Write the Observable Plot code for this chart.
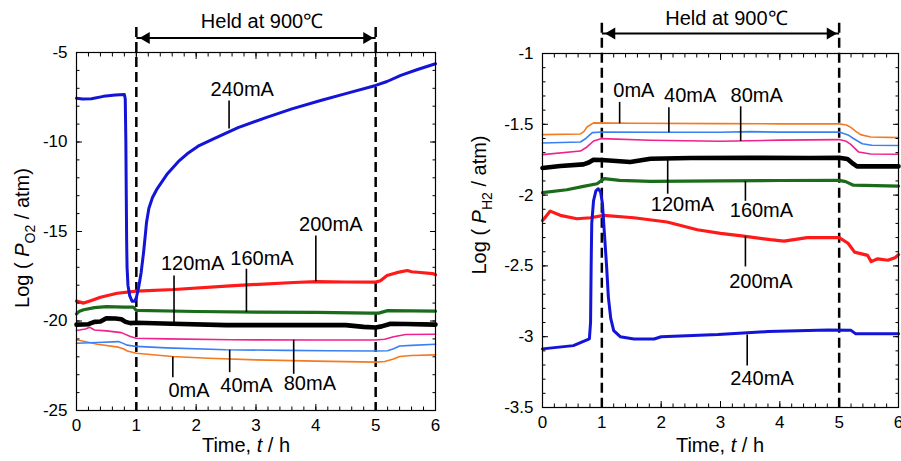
<!DOCTYPE html>
<html><head><meta charset="utf-8">
<script src="https://cdn.jsdelivr.net/npm/d3@7"></script>
<script src="https://cdn.jsdelivr.net/npm/@observablehq/plot@0.6"></script>
<style>
html,body{margin:0;padding:0;background:#fff;}
#wrap{position:relative;width:901px;height:461px;overflow:hidden;}
#wrap svg{position:absolute;top:0;}
</style></head><body><div id="wrap"></div>
<script>
// ---------- data: [time (h), log P] ----------
const currents = ["0mA","40mA","80mA","120mA","160mA","200mA","240mA"];

// Left panel: log P(O2)
const o2_0mA = [[0,-21.05],[0.35,-21.3],[0.7,-21.46],[0.78,-21.55],[0.85,-21.68],[1.0,-21.8],[1.6,-21.98],[2.2,-22.08],[3.0,-22.17],[4.0,-22.24],[5.0,-22.3],[5.15,-22.26],[5.3,-22.12],[5.4,-21.98],[5.6,-21.93],[6.0,-21.89]];
const o2_40mA = [[0,-21.24],[0.35,-21.2],[0.7,-21.15],[0.78,-21.25],[0.85,-21.35],[1.0,-21.42],[1.5,-21.5],[2.5,-21.61],[3.5,-21.64],[4.2,-21.66],[5.0,-21.68],[5.2,-21.66],[5.3,-21.55],[5.4,-21.4],[5.6,-21.36],[6.0,-21.3]];
const o2_80mA = [[0,-20.53],[0.15,-20.45],[0.22,-20.35],[0.3,-20.5],[0.5,-20.55],[0.75,-20.65],[0.9,-20.87],[1.0,-20.96],[1.5,-21.0],[2.6,-21.05],[4.0,-21.06],[5.0,-21.06],[5.15,-21.02],[5.3,-20.88],[5.5,-20.75],[6.0,-20.74]];
const o2_120mA = [[0,-20.2],[0.2,-20.18],[0.3,-20.05],[0.4,-20.03],[0.5,-19.85],[0.65,-19.86],[0.75,-19.9],[0.82,-20.05],[0.9,-20.12],[1.0,-20.1],[1.6,-20.15],[2.5,-20.23],[3.5,-20.23],[4.5,-20.23],[4.8,-20.33],[5.0,-20.36],[5.1,-20.3],[5.25,-20.15],[5.5,-20.17],[6.0,-20.2]];
const o2_160mA = [[0,-19.6],[0.05,-19.45],[0.12,-19.37],[0.3,-19.25],[0.5,-19.2],[0.8,-19.22],[0.95,-19.22],[1.0,-19.41],[2.0,-19.47],[3.0,-19.5],[4.0,-19.52],[4.9,-19.56],[5.05,-19.56],[5.2,-19.42],[5.6,-19.43],[6.0,-19.45]];
const o2_200mA = [[0,-18.89],[0.12,-19.0],[0.25,-18.85],[0.4,-18.67],[0.68,-18.45],[1.0,-18.33],[1.63,-18.24],[2.63,-18.02],[3.63,-17.85],[4.02,-17.8],[4.5,-17.82],[5.0,-17.83],[5.08,-17.75],[5.19,-17.46],[5.35,-17.3],[5.53,-17.18],[5.6,-17.25],[5.75,-17.29],[5.95,-17.35],[6.0,-17.42]];
const o2_240mA = [[0,-7.55],[0.1,-7.6],[0.25,-7.58],[0.45,-7.45],[0.65,-7.38],[0.8,-7.35],[0.815,-7.6],[0.825,-10],[0.832,-13],[0.838,-15.5],[0.845,-17],[0.86,-18],[0.89,-18.6],[0.93,-18.9],[0.97,-18.9],[1.0,-18.7],[1.04,-18.1],[1.08,-17.3],[1.12,-16.2],[1.15,-15.2],[1.17,-14.5],[1.21,-13.7],[1.27,-13.1],[1.35,-12.6],[1.52,-11.77],[1.7,-11.1],[1.85,-10.66],[2.05,-10.2],[2.29,-9.82],[2.7,-9.2],[3.19,-8.61],[3.6,-8.15],[4.08,-7.68],[4.5,-7.3],[5.0,-6.84],[5.19,-6.62],[5.42,-6.28],[5.7,-5.95],[6.0,-5.63]];

// Right panel: log P(H2)
const h2_0mA = [[0,-1.573],[0.64,-1.568],[0.7,-1.55],[0.75,-1.519],[0.86,-1.49],[1.5,-1.493],[3,-1.495],[4,-1.497],[5.0,-1.497],[5.12,-1.505],[5.19,-1.52],[5.28,-1.55],[5.36,-1.573],[5.53,-1.59],[6,-1.594]];
const h2_40mA = [[0,-1.632],[0.64,-1.625],[0.73,-1.6],[0.84,-1.559],[1.0,-1.554],[2,-1.556],[3,-1.556],[3.5,-1.552],[4,-1.555],[5.0,-1.554],[5.15,-1.575],[5.24,-1.6],[5.39,-1.637],[5.55,-1.648],[6,-1.65]];
const h2_80mA = [[0,-1.714],[0.64,-1.689],[0.75,-1.66],[0.86,-1.618],[1.0,-1.601],[1.82,-1.613],[3,-1.62],[4,-1.612],[5.0,-1.608],[5.12,-1.62],[5.19,-1.64],[5.33,-1.696],[5.53,-1.71],[6,-1.712]];
const h2_120mA = [[0,-1.809],[0.3,-1.795],[0.69,-1.783],[0.78,-1.77],[0.86,-1.75],[1.0,-1.752],[1.48,-1.766],[1.82,-1.743],[2.5,-1.738],[3.5,-1.737],[4.5,-1.738],[5.0,-1.736],[5.14,-1.745],[5.24,-1.78],[5.3,-1.797],[6,-1.797]];
const h2_160mA = [[0,-1.983],[0.41,-1.962],[0.69,-1.938],[0.92,-1.92],[1.04,-1.884],[1.3,-1.896],[1.82,-1.903],[3,-1.9],[4,-1.897],[5.0,-1.896],[5.11,-1.905],[5.24,-1.93],[6,-1.936]];
const h2_200mA = [[0,-2.179],[0.06,-2.15],[0.13,-2.113],[0.3,-2.143],[0.58,-2.167],[0.81,-2.16],[1.03,-2.143],[1.54,-2.16],[2.1,-2.19],[2.61,-2.245],[3.0,-2.27],[3.39,-2.29],[3.84,-2.315],[4.07,-2.325],[4.46,-2.3],[5.0,-2.3],[5.15,-2.34],[5.26,-2.403],[5.48,-2.426],[5.54,-2.47],[5.65,-2.45],[5.82,-2.46],[5.95,-2.44],[6,-2.42]];
const h2_240mA = [[0,-3.086],[0.52,-3.063],[0.79,-3.016],[0.81,-2.9],[0.82,-2.5],[0.83,-2.2],[0.86,-2.04],[0.9,-1.97],[0.94,-1.955],[0.98,-1.98],[1.01,-2.06],[1.04,-2.25],[1.08,-2.5],[1.11,-2.72],[1.15,-2.87],[1.2,-2.957],[1.31,-3.0],[1.54,-3.016],[1.88,-3.016],[2.0,-3.0],[2.96,-2.985],[3.8,-2.964],[4.81,-2.952],[5.2,-2.955],[5.28,-2.98],[6,-2.98]];

// Callout labels: [label, text x, text y, leader x, leader y1, leader y2]
const calloutsO2 = [
  ["240mA",2.77,-7.07,2.55,-7.68,-9.25],
  ["200mA",4.25,-14.64,4.0,-15.22,-17.78],
  ["120mA",1.94,-16.8,1.63,-17.46,-20.1],
  ["160mA",3.1,-16.53,2.84,-17.08,-19.5],
  ["0mA",1.88,-23.88,1.61,-21.98,-23.14],
  ["40mA",2.84,-23.6,2.56,-21.6,-22.86],
  ["80mA",3.9,-23.5,3.63,-21.05,-22.95]
];
const calloutsH2 = [
  ["0mA",1.54,-1.26,1.30,-1.342,-1.493],
  ["40mA",2.49,-1.30,2.13,-1.38,-1.556],
  ["80mA",3.61,-1.30,3.34,-1.373,-1.618],
  ["120mA",2.36,-2.066,2.11,-1.738,-1.99],
  ["160mA",3.69,-2.106,3.42,-1.9,-2.04],
  ["200mA",3.68,-2.609,3.42,-2.29,-2.504],
  ["240mA",3.7,-3.298,3.45,-2.985,-3.204]
];

const heldLabel = "Held at 900℃";
const heldStart = 1, heldEnd = 5;
const xMajor = [0,1,2,3,4,5,6];

// ---------- styles ----------
const FONT = "'Liberation Sans', Arial, sans-serif";
const colors = ["#f47a20","#3a80f5","#f0208c","#000000","#1a6b1a","#ff1a1a","#1414d8"];
const widths = [1.6,1.6,1.6,4.6,3.2,3.2,3.0];

function seriesMarks(seriesList) {
  return seriesList.map((pts, i) =>
    Plot.line(pts, {x: d => d[0], y: d => d[1], stroke: colors[i], strokeWidth: widths[i], strokeLinejoin: "round"}));
}

function axisMarks(xMin, yMajor, yMinor) {
  const blank = () => "";
  const c = {label: null, tickFormat: blank, strokeWidth: 1};
  const mn = 3.5, mj = 6;
  return [
    Plot.axisX(xMin, {...c, anchor: "bottom", tickSize: mn, dy: -mn}),
    Plot.axisX(xMajor, {...c, anchor: "bottom", tickSize: mj, dy: -mj}),
    Plot.axisX(xMin, {...c, anchor: "top", tickSize: mn, dy: mn}),
    Plot.axisX(xMajor, {...c, anchor: "top", tickSize: mj, dy: mj}),
    Plot.axisY(yMinor, {...c, anchor: "left", tickSize: mn, dx: mn}),
    Plot.axisY(yMajor, {...c, anchor: "left", tickSize: mj, dx: mj}),
    Plot.axisY(yMinor, {...c, anchor: "right", tickSize: mn, dx: -mn}),
    Plot.axisY(yMajor, {...c, anchor: "right", tickSize: mj, dx: -mj}),
    Plot.axisX(xMajor, {anchor: "bottom", tickSize: 0, tickPadding: 8, label: null, fontSize: 17, tickFormat: d => String(d)}),
    Plot.axisY(yMajor, {anchor: "left", tickSize: 0, tickPadding: 9, label: null, fontSize: 17, tickFormat: d => String(d)}),
    Plot.frame({stroke: "black", strokeWidth: 1.2})
  ];
}

function calloutMarks(list) {
  return [
    Plot.link(list, {x1: d => d[3], x2: d => d[3], y1: d => d[4], y2: d => d[5], stroke: "black", strokeWidth: 1.6}),
    Plot.text(list, {x: d => d[1], y: d => d[2], text: d => d[0], fontSize: 20, fill: "black"})
  ];
}

function heldMarks(yTop, yBottom, yArrow, yText) {
  return [
    Plot.ruleX([heldStart, heldEnd], {y1: yTop, y2: yBottom, stroke: "black", strokeWidth: 2.5, strokeDasharray: "10,5"}),
    Plot.link([[heldStart, heldEnd]], {x1: d => d[0], x2: d => d[1], y1: yArrow, y2: yArrow, stroke: "black", strokeWidth: 2, dx: 0, insetLeft: 0}),
    Plot.dot([heldStart], {x: d => d, y: yArrow, symbol: "triangle", r: 4.4, fill: "black", stroke: "none", rotate: -90, dx: 10}),
    Plot.dot([heldEnd], {x: d => d, y: yArrow, symbol: "triangle", r: 4.4, fill: "black", stroke: "none", rotate: 90, dx: -9}),
    Plot.text([heldLabel], {x: (heldStart + heldEnd) / 2 + 0.1, y: yText, text: d => d, fontSize: 20, fill: "black"})
  ];
}

function addLabel(svg, x, y, rotate, parts) {
  const t = d3.select(svg).append("text")
    .attr("transform", `translate(${x},${y}) rotate(${rotate})`)
    .attr("text-anchor", "middle")
    .attr("fill", "black")
    .style("font-family", FONT)
    .style("font-size", "20px");
  parts.forEach(p => {
    const s = t.append("tspan").text(p.text);
    if (p.italic) s.style("font-style", "italic");
    if (p.sub) { s.attr("dy", 6).style("font-size", "14px"); }
    if (p.unsub) s.attr("dy", -6);
  });
}

const xMinor = d3.range(0, 6.001, 0.2).map(v => +v.toFixed(2));

// ---------- left panel ----------
const left = Plot.plot({
  width: 450, height: 461,
  marginLeft: 76, marginRight: 15, marginTop: 52, marginBottom: 51,
  x: {domain: [0, 6]},
  y: {domain: [-25, -5]},
  style: {fontFamily: FONT, background: "white", color: "black", overflow: "visible"},
  marks: [
    ...heldMarks(-3.6, -25, -4.19, -3.25),
    ...seriesMarks([o2_0mA, o2_40mA, o2_80mA, o2_120mA, o2_160mA, o2_200mA, o2_240mA]),
    ...calloutMarks(calloutsO2),
    ...axisMarks(xMinor, [-25,-20,-15,-10,-5], d3.range(-25, -4.99, 1))
  ]
});
left.style.left = "0px";
addLabel(left, 246, 452, 0, [{text: "Time, "}, {text: "t", italic: true}, {text: " / h"}]);
addLabel(left, 29, 238, -90, [{text: "Log ( "}, {text: "P", italic: true}, {text: "O2", sub: true}, {text: " / atm)", unsub: true}]);

// ---------- right panel ----------
const right = Plot.plot({
  width: 451, height: 461,
  marginLeft: 92, marginRight: 3, marginTop: 53, marginBottom: 54,
  x: {domain: [0, 6]},
  y: {domain: [-3.5, -1]},
  style: {fontFamily: FONT, background: "white", color: "black", overflow: "visible"},
  marks: [
    ...heldMarks(-0.786, -3.5, -0.859, -0.754),
    ...seriesMarks([h2_0mA, h2_40mA, h2_80mA, h2_120mA, h2_160mA, h2_200mA, h2_240mA]),
    ...calloutMarks(calloutsH2),
    ...axisMarks(xMinor, [-3.5,-3,-2.5,-2,-1.5,-1], d3.range(-35, -9.99, 1).map(v => v / 10))
  ]
});
right.style.left = "450px";
addLabel(right, 270, 452, 0, [{text: "Time, "}, {text: "t", italic: true}, {text: " / h"}]);
addLabel(right, 36, 205, -90, [{text: "Log ( "}, {text: "P", italic: true}, {text: "H2", sub: true}, {text: " / atm)", unsub: true}]);

const wrap = document.getElementById("wrap");
wrap.appendChild(left);
wrap.appendChild(right);
</script></body></html>
